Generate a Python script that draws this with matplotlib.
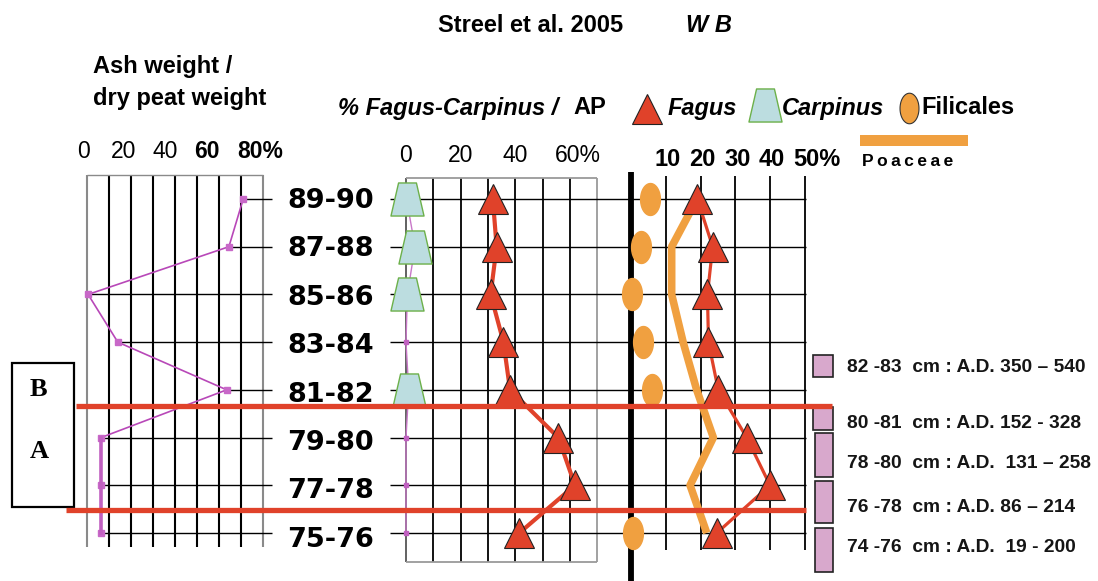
import numpy as np
import matplotlib
matplotlib.use("Agg")
import matplotlib.pyplot as plt
from matplotlib.path import Path
from matplotlib.patches import Rectangle
from matplotlib.transforms import Bbox, TransformedBbox

plt.rcParams['font.family'] = ['Liberation Sans', 'DejaVu Sans']

# ---------------- data ----------------
depths = ["89-90", "87-88", "85-86", "83-84", "81-82", "79-80", "77-78", "75-76"]
ash_pct = [71.0, 64.5, 0.5, 14.0, 63.5, 6.4, 6.4, 6.4]
fagus_ap = [31.8, 33.2, 31.0, 35.7, 38.1, 55.8, 61.9, 41.5]
carpinus_ap = [0.2, 3.3, 0.5, 0.0, 1.0, 0.0, 0.0, 0.0]
fagus_pct = [19.1, 23.5, 22.0, 22.3, 25.1, 33.3, 40.0, 24.7]
poaceae_pct = [19.0, 11.7, 11.7, 15.0, 18.9, 23.7, 17.0, 21.8]
filicales_pct = [5.5, 2.8, 0.4, 3.4, 6.0, np.nan, np.nan, 0.7]
zone_bounds = [4.33, 6.52]          # zone limits, in sample-row units
zone_labels = ["B", "A"]
date_labels = ["82 -83  cm : A.D. 350 \u2013 540",
               "80 -81  cm : A.D. 152 - 328",
               "78 -80  cm : A.D.  131 \u2013 258",
               "76 -78  cm : A.D. 86 \u2013 214",
               "74 -76  cm : A.D.  19 - 200"]
ash_tick_labels = ["0", "20", "40", "60", "80%"]
ap_tick_labels = ["0", "20", "40", "60%"]
pct_tick_labels = ["10", "20", "30", "40", "50%"]

# ---------------- layout helpers ----------------
W, H = 1098, 581
fig = plt.figure(figsize=(W / 100, H / 100), dpi=100)
fig.patch.set_facecolor("white")

ROW0, ROWSTEP = 199.0, 47.71
TOP, BOT = 165.0, 581.0


def r(py):
    """pixel y -> row units"""
    return (py - ROW0) / ROWSTEP


def row_px(rv):
    return ROW0 + rv * ROWSTEP


def make_ax(px_l, px_r, zero_px, ppu):
    ax = fig.add_axes([px_l / W, 1 - BOT / H, (px_r - px_l) / W, (BOT - TOP) / H])
    ax.set_xlim((px_l - zero_px) / ppu, (px_r - zero_px) / ppu)
    ax.set_ylim(r(BOT), r(TOP))
    ax.axis("off")
    ax.patch.set_alpha(0)
    return ax, (lambda px: (px - zero_px) / ppu)


rows = np.arange(len(depths))
RED = "#e0422a"
ORANGE = "#f0a040"
MAG = "#b848b8"

# custom markers
trap = Path([(-0.5, -0.5), (0.5, -0.5), (0.27, 0.5), (-0.27, 0.5), (-0.5, -0.5)],
            [Path.MOVETO, Path.LINETO, Path.LINETO, Path.LINETO, Path.CLOSEPOLY])
th = np.linspace(0, 2 * np.pi, 64)
ell = Path(np.column_stack([0.31 * np.cos(th), 0.5 * np.sin(th)]), closed=True)

# ---------------- panel 1 : ash ----------------
ax1, xv1 = make_ax(60, 292, 87, 2.2)
ax1.vlines(np.arange(0, 81, 10), r(175), r(547),
           colors=["#8a8a8a"] + ["black"] * 7 + ["#8a8a8a"], lw=1.5)
ax1.hlines(r(175), 0, 80, color="#8a8a8a", lw=1.0)
ax1.hlines(rows, ash_pct, xv1(272), color="black", lw=1.0, clip_on=False)
ax1.plot(ash_pct, rows, color=MAG, lw=1.2, marker="s", ms=5,
         mfc="#c868c8", mec="#c868c8", zorder=3, clip_on=False)
ax1.plot(ash_pct[5:], rows[5:], color="#c060c0", lw=2.6, zorder=3)

# ---------------- panel 2 : % Fagus-Carpinus / AP ----------------
ax2, xv2 = make_ax(380, 620, 406, 2.73)
ax2.vlines(np.arange(0, 71, 10), r(178), r(562),
           colors=["#555555"] + ["black"] * 6 + ["#9a9a9a"], lw=1.3)
ax2.hlines([r(178), r(562)], 0, 70, color="#9a9a9a", lw=1.3)
ax2.hlines(rows, xv2(390), xv2(806), color="black", lw=1.0, clip_on=False)
ax2.plot(carpinus_ap, rows, color="#c878c8", lw=1.0, marker="s", ms=3,
         mfc="#c060c0", mec="#c060c0", zorder=3, clip_on=False)
carp = np.array(carpinus_ap)
mask = carp > 0
ax2.plot(carp[mask], rows[mask], ls="none", marker=trap, ms=23.8,
         mfc="#bcdde0", mec="#6cb04a", mew=1.0, zorder=5, clip_on=False)
ax2.plot(fagus_ap, rows, color=RED, lw=3.0, zorder=4)
ax2.plot(fagus_ap, rows, ls="none", marker="^", ms=21, mfc=RED, mec="#222222",
         mew=0.8, zorder=6)

# ---------------- panel 3 : % Fagus, Poaceae, Filicales ----------------
ax3, xv3 = make_ax(600, 845, 631, 3.475)
ax3.vlines(0, r(172), r(581), color="black", lw=4.2, zorder=2)
ax3.vlines(np.arange(10, 51, 10), r(176), r(550), color="black", lw=1.3)
ax3.plot(poaceae_pct, rows, color=ORANGE, lw=5.5, zorder=3, solid_capstyle="butt")
ax3.plot(filicales_pct, rows, ls="none", marker=ell, ms=23, mfc=ORANGE,
         mec=ORANGE, zorder=4)
ax3.plot(fagus_pct, rows, color=RED, lw=2.3, zorder=5)
ax3.plot(fagus_pct, rows, ls="none", marker="^", ms=21, mfc=RED, mec="#222222",
         mew=0.8, zorder=6)

# ---------------- overlay (annotations) ----------------
ov = fig.add_axes([0, 0, 1, 1], zorder=10)
ov.set_xlim(0, W)
ov.set_ylim(H, 0)
ov.axis("off")
ov.patch.set_alpha(0)

# title
ov.text(531, 25, "Streel et al. 2005", ha="center", va="center",
        fontsize=17, fontweight="bold")
ov.text(709, 25, "W B", ha="center", va="center", fontsize=17,
        fontweight="bold", style="italic")

# ash header
ov.text(93, 67, "Ash weight /", ha="left", va="center", fontsize=17, fontweight="bold")
ov.text(93, 98, "dry peat weight", ha="left", va="center", fontsize=17, fontweight="bold")

# legend row
ov.text(338, 108, "% Fagus-Carpinus /", ha="left", va="center", fontsize=17,
        fontweight="bold", style="italic")
ov.text(573, 108, "AP", ha="left", va="center", fontsize=17, fontweight="bold")
ov.plot([647], [108.5], marker="^", ms=21, mfc=RED, mec="#222222", mew=0.8)
ov.text(668, 108, "Fagus", ha="left", va="center", fontsize=17,
        fontweight="bold", style="italic")
ov.plot([764.5], [104.5], marker=trap, ms=23.8, mfc="#bcdde0", mec="#6cb04a", mew=1.0)
ov.text(782, 108, "Carpinus", ha="left", va="center", fontsize=17,
        fontweight="bold", style="italic")
ov.plot([908.5], [108], marker=ell, ms=22, mfc=ORANGE, mec="#333333", mew=0.8)
ov.text(921, 108, "Filicales", ha="left", va="center", fontsize=17, fontweight="bold")
ov.add_patch(Rectangle((860, 135), 108, 11, facecolor=ORANGE, edgecolor="none"))
ov.text(862, 161, "P\u2009o\u2009a\u2009c\u2009e\u2009a\u2009e", ha="left",
        va="center", fontsize=12.5, fontweight="bold")

# axis tick labels
for lab, px in zip(ash_tick_labels, [84, 124, 165, 207, 237]):
    bold = lab in ("60", "80%")
    ov.text(px, 152, lab, ha="left" if lab.endswith("%") else "center",
            va="center", fontsize=16.5, fontweight="bold" if bold else "normal")
for lab, v in zip(ap_tick_labels, [0, 20, 40, 60]):
    if lab.endswith("%"):
        ov.text(555, 155, lab, ha="left", va="center", fontsize=16.5)
    else:
        ov.text(406 + 2.73 * v, 155, lab, ha="center", va="center", fontsize=16.5)
for lab, v in zip(pct_tick_labels, [10, 20, 30, 40, 50]):
    if lab.endswith("%"):
        ov.text(793, 160, lab, ha="left", va="center", fontsize=17, fontweight="bold")
    else:
        ov.text(631 + 3.475 * v + 2, 160, lab, ha="center", va="center",
                fontsize=17, fontweight="bold")

# depth labels (bottom one cut as in the original)
clip = TransformedBbox(Bbox.from_extents(0, 1 - 548 / H, 1, 1), fig.transFigure)
for i, d in enumerate(depths):
    t = ov.text(287, row_px(i) + 2 + 0.7 * i, d, ha="left", va="center",
                fontsize=19.5, fontweight="bold", family="DejaVu Sans")
    t.set_clip_box(clip)
    t.set_clip_on(True)

# zone boundaries
ov.hlines(row_px(zone_bounds[0]), 76, 832, color=RED, lw=3.8)
ov.hlines(row_px(zone_bounds[1]), 66, 806, color=RED, lw=3.8)
ov.add_patch(Rectangle((12, 363), 62, 144, facecolor="white", edgecolor="black", lw=1.6))
ov.text(38.5, 389, zone_labels[0], ha="center", va="center", fontsize=19,
        fontweight="bold", family="Liberation Serif")
ov.text(39, 452, zone_labels[1], ha="center", va="center", fontsize=19,
        fontweight="bold", family="Liberation Serif")

# radiocarbon dates
boxes = [(813, 355, 20, 22), (813, 407, 20, 23), (815, 433, 18, 44),
         (815, 481, 18, 42), (815, 528, 18, 44)]
label_y = [367, 423, 463, 507, 548]
for (bx, by, bw, bh), lab, ly in zip(boxes, date_labels, label_y):
    ov.add_patch(Rectangle((bx, by), bw, bh, facecolor="#d8a8cc",
                           edgecolor="#222222", lw=1.2))
    ov.text(847, ly, lab, ha="left", va="center", fontsize=13.8, fontweight="bold",
            color="#151515")

fig.savefig("out.png", dpi=100, facecolor="white")
